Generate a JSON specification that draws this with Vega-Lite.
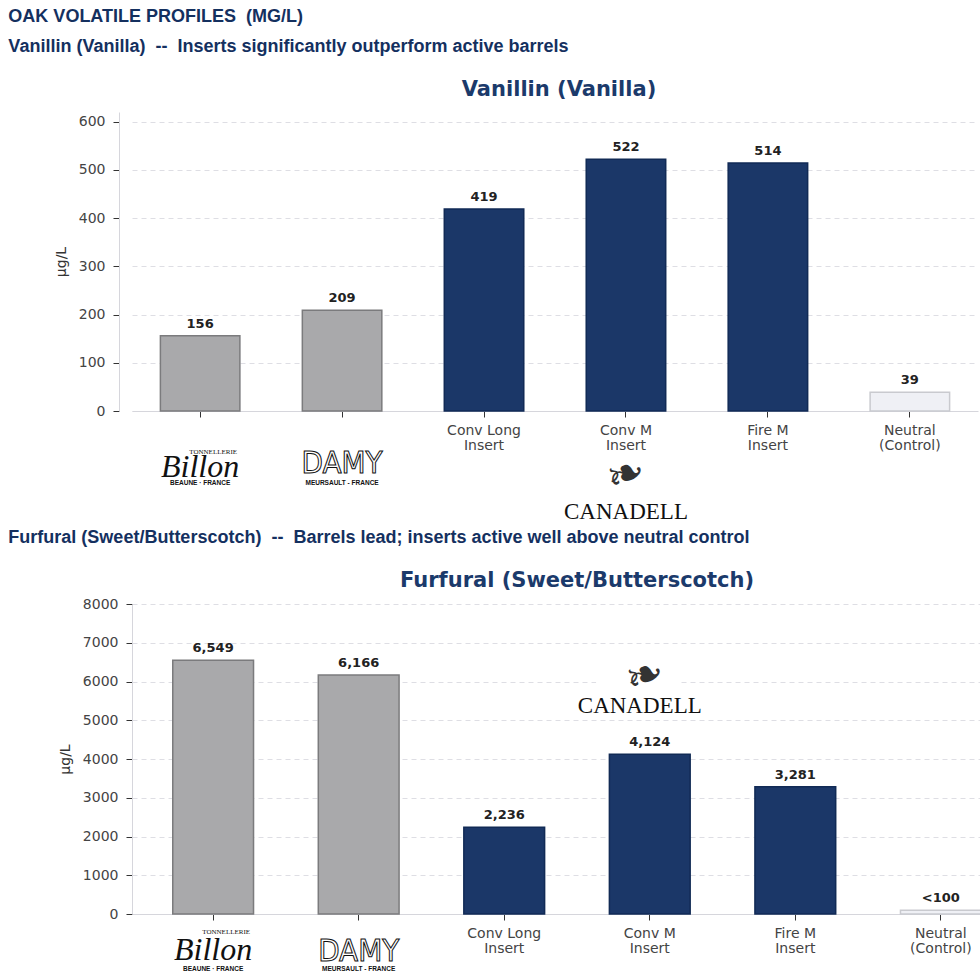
{
  "$schema": "https://vega.github.io/schema/vega-lite/v6.json",
  "background": "white",
  "padding": {"left": 8, "top": 8, "right": 0, "bottom": 0},
  "title": {
    "text": "OAK VOLATILE PROFILES \u00a0(MG/L)",
    "subtitle": "Vanillin (Vanilla) \u00a0-- \u00a0Inserts significantly outperform active barrels",
    "anchor": "start",
    "font": "Liberation Sans",
    "fontSize": 18,
    "fontWeight": "bold",
    "color": "#14305f",
    "subtitleFont": "Liberation Sans",
    "subtitleFontSize": 18,
    "subtitleFontWeight": "bold",
    "subtitleColor": "#14305f",
    "subtitlePadding": 12,
    "offset": 23
  },
  "spacing": 4,
  "datasets": {
    "vanillin": [
      {"group": "Billon", "kind": "barrel", "value": 156, "label": "156"},
      {"group": "DAMY", "kind": "barrel", "value": 209, "label": "209"},
      {"group": "Conv Long Insert", "kind": "insert", "value": 419, "label": "419"},
      {"group": "Conv M Insert", "kind": "insert", "value": 522, "label": "522"},
      {"group": "Fire M Insert", "kind": "insert", "value": 514, "label": "514"},
      {"group": "Neutral (Control)", "kind": "control", "value": 39, "label": "39"}
    ],
    "furfural": [
      {"group": "Billon", "kind": "barrel", "value": 6549, "label": "6,549"},
      {"group": "DAMY", "kind": "barrel", "value": 6166, "label": "6,166"},
      {"group": "Conv Long Insert", "kind": "insert", "value": 2236, "label": "2,236"},
      {"group": "Conv M Insert", "kind": "insert", "value": 4124, "label": "4,124"},
      {"group": "Fire M Insert", "kind": "insert", "value": 3281, "label": "3,281"},
      {"group": "Neutral (Control)", "kind": "control", "value": 100, "label": "<100"}
    ],
    "logos": [
      {"group": "Billon", "part": "tag", "text": "TONNELLERIE"},
      {"group": "Billon", "part": "brand", "text": "Billon"},
      {"group": "Billon", "part": "sub", "text": "BEAUNE · FRANCE"},
      {"group": "DAMY", "part": "brand", "text": "DAMY"},
      {"group": "DAMY", "part": "sub", "text": "MEURSAULT - FRANCE"},
      {"group": "Conv M Insert", "part": "leaf", "text": "❧"},
      {"group": "Conv M Insert", "part": "brand", "text": "CANADELL"}
    ]
  },
  "vconcat": [
    {
      "width": 846,
      "height": 299,
      "data": {"name": "vanillin"},
      "title": {"text": "Vanillin (Vanilla)", "frame": "group", "offset": 12, "dx": 4},
      "encoding": {
        "x": {
          "field": "group",
          "type": "nominal",
          "scale": {
            "domain": ["Billon", "DAMY", "Conv Long Insert", "Conv M Insert", "Fire M Insert", "Neutral (Control)"],
            "paddingInner": 0.44,
            "paddingOuter": 0.2
          },
          "axis": {
            "title": null,
            "labelAngle": 0,
            "labelExpr": "indexof(['Billon', 'DAMY'], datum.value) >= 0 ? '' : split(replace(replace(datum.value, ' Insert', '|Insert'), ' (', '|('), '|')",
            "labelLineHeight": 15,
            "labelPadding": 6
          }
        }
      },
      "layer": [
        {
          "mark": {"type": "bar", "strokeWidth": 1.5},
          "encoding": {
            "y": {
              "field": "value",
              "type": "quantitative",
              "title": "µg/L",
              "scale": {"domain": [0, 620], "nice": false},
              "axis": {"values": [0, 100, 200, 300, 400, 500, 600], "format": "d", "offset": 13, "labelOverlap": false}
            },
            "color": {
              "field": "kind",
              "type": "nominal",
              "legend": null,
              "scale": {"domain": ["barrel", "insert", "control"], "range": ["#a9a9ab", "#1b3768", "#eff0f5"]}
            },
            "stroke": {
              "field": "kind",
              "type": "nominal",
              "legend": null,
              "scale": {"domain": ["barrel", "insert", "control"], "range": ["#7b7b7d", "#112a55", "#c9cacf"]}
            }
          }
        },
        {
          "mark": {"type": "text", "baseline": "bottom", "dy": -5, "font": "DejaVu Sans", "fontSize": 13, "fontWeight": "bold", "color": "#222222"},
          "encoding": {
            "y": {"field": "value", "type": "quantitative", "title": "µg/L"},
            "text": {"field": "label"}
          }
        },
        {
          "data": {"name": "logos"},
          "transform": [{"filter": "datum.part == 'tag'"}],
          "mark": {"type": "text", "font": "Liberation Serif", "fontSize": 7, "dx": 13, "color": "#111111"},
          "encoding": {"y": {"datum": -85, "title": "µg/L"}, "text": {"field": "text"}}
        },
        {
          "data": {"name": "logos"},
          "transform": [{"filter": "datum.group == 'Billon' && datum.part == 'brand'"}],
          "mark": {"type": "text", "font": "Liberation Serif", "fontStyle": "italic", "fontSize": 32, "baseline": "alphabetic", "color": "#111111"},
          "encoding": {"y": {"datum": -137, "title": "µg/L"}, "text": {"field": "text"}}
        },
        {
          "data": {"name": "logos"},
          "transform": [{"filter": "datum.part == 'sub'"}],
          "mark": {"type": "text", "font": "Liberation Sans", "fontSize": 6.5, "fontWeight": "bold", "color": "#111111"},
          "encoding": {"y": {"datum": -150, "title": "µg/L"}, "text": {"field": "text"}}
        },
        {
          "data": {"name": "logos"},
          "transform": [{"filter": "datum.group == 'DAMY' && datum.part == 'brand'"}],
          "mark": {"type": "text", "font": "Liberation Sans Narrow, DejaVu Sans Condensed, Liberation Sans", "fontSize": 31, "baseline": "alphabetic", "fill": "white", "stroke": "#111111", "strokeWidth": 1},
          "encoding": {"y": {"datum": -129, "title": "µg/L"}, "text": {"field": "text"}}
        },
        {
          "data": {"name": "logos"},
          "transform": [{"filter": "datum.part == 'leaf'"}],
          "mark": {"type": "text", "font": "DejaVu Sans", "fontSize": 46, "color": "#333333", "angle": -20},
          "encoding": {"y": {"datum": -133, "title": "µg/L"}, "text": {"field": "text"}}
        },
        {
          "data": {"name": "logos"},
          "transform": [{"filter": "datum.group == 'Conv M Insert' && datum.part == 'brand'"}],
          "mark": {"type": "text", "font": "Liberation Serif", "fontSize": 23, "baseline": "alphabetic", "color": "#111111"},
          "encoding": {"y": {"datum": -224, "title": "µg/L"}, "text": {"field": "text"}}
        }
      ]
    },
    {
      "title": {
        "text": "Furfural (Sweet/Butterscotch) \u00a0-- \u00a0Barrels lead; inserts active well above neutral control",
        "anchor": "start",
        "dx": -50,
        "font": "Liberation Sans",
        "fontSize": 18,
        "fontWeight": "bold",
        "color": "#14305f",
        "offset": 23
      },
      "vconcat": [
        {
          "width": 890,
          "height": 310,
          "data": {"name": "furfural"},
          "title": {"text": "Furfural (Sweet/Butterscotch)", "frame": "group", "offset": 6},
          "encoding": {
            "x": {
              "field": "group",
              "type": "nominal",
              "scale": {
                "domain": ["Billon", "DAMY", "Conv Long Insert", "Conv M Insert", "Fire M Insert", "Neutral (Control)"],
                "paddingInner": 0.445,
                "paddingOuter": 0.28
              },
              "axis": {
                "title": null,
                "labelAngle": 0,
                "labelExpr": "indexof(['Billon', 'DAMY'], datum.value) >= 0 ? '' : split(replace(replace(datum.value, ' Insert', '|Insert'), ' (', '|('), '|')",
                "labelLineHeight": 15,
                "labelPadding": 6
              }
            }
          },
          "layer": [
            {
              "mark": {"type": "bar", "strokeWidth": 1.5},
              "encoding": {
                "y": {
                  "field": "value",
                  "type": "quantitative",
                  "title": "µg/L",
                  "scale": {"domain": [0, 8000], "nice": false},
                  "axis": {"values": [0, 1000, 2000, 3000, 4000, 5000, 6000, 7000, 8000], "format": "d", "labelOverlap": false, "tickCount": 9}
                },
                "color": {
                  "field": "kind",
                  "type": "nominal",
                  "legend": null,
                  "scale": {"domain": ["barrel", "insert", "control"], "range": ["#a9a9ab", "#1b3768", "#eff0f5"]}
                },
                "stroke": {
                  "field": "kind",
                  "type": "nominal",
                  "legend": null,
                  "scale": {"domain": ["barrel", "insert", "control"], "range": ["#7b7b7d", "#112a55", "#c9cacf"]}
                }
              }
            },
            {
              "mark": {"type": "text", "baseline": "bottom", "dy": -5, "font": "DejaVu Sans", "fontSize": 13, "fontWeight": "bold", "color": "#222222"},
              "encoding": {
                "y": {"field": "value", "type": "quantitative", "title": "µg/L"},
                "text": {"field": "label"}
              }
            },
            {
              "data": {"name": "logos"},
              "transform": [{"filter": "datum.group == 'Conv M Insert' && datum.part == 'brand'"}],
              "mark": {"type": "bar", "fill": "white", "width": {"band": 1.03}, "xOffset": -12},
              "encoding": {"y": {"datum": 5080, "title": "µg/L"}, "y2": {"datum": 6710}}
            },
            {
              "data": {"name": "logos"},
              "transform": [{"filter": "datum.part == 'tag'"}],
              "mark": {"type": "text", "font": "Liberation Serif", "fontSize": 7, "dx": 13, "color": "#111111"},
              "encoding": {"y": {"datum": -465, "title": "µg/L"}, "text": {"field": "text"}}
            },
            {
              "data": {"name": "logos"},
              "transform": [{"filter": "datum.group == 'Billon' && datum.part == 'brand'"}],
              "mark": {"type": "text", "font": "Liberation Serif", "fontStyle": "italic", "fontSize": 32, "baseline": "alphabetic", "color": "#111111"},
              "encoding": {"y": {"datum": -1190, "title": "µg/L"}, "text": {"field": "text"}}
            },
            {
              "data": {"name": "logos"},
              "transform": [{"filter": "datum.part == 'sub'"}],
              "mark": {"type": "text", "font": "Liberation Sans", "fontSize": 6.5, "fontWeight": "bold", "color": "#111111"},
              "encoding": {"y": {"datum": -1420, "title": "µg/L"}, "text": {"field": "text"}}
            },
            {
              "data": {"name": "logos"},
              "transform": [{"filter": "datum.group == 'DAMY' && datum.part == 'brand'"}],
              "mark": {"type": "text", "font": "Liberation Sans Narrow, DejaVu Sans Condensed, Liberation Sans", "fontSize": 31, "baseline": "alphabetic", "fill": "white", "stroke": "#111111", "strokeWidth": 1},
              "encoding": {"y": {"datum": -1213, "title": "µg/L"}, "text": {"field": "text"}}
            },
            {
              "data": {"name": "logos"},
              "transform": [{"filter": "datum.part == 'leaf'"}],
              "mark": {"type": "text", "font": "DejaVu Sans", "fontSize": 46, "color": "#333333", "angle": -20, "dx": -5},
              "encoding": {"y": {"datum": 6170, "title": "µg/L"}, "text": {"field": "text"}}
            },
            {
              "data": {"name": "logos"},
              "transform": [{"filter": "datum.group == 'Conv M Insert' && datum.part == 'brand'"}],
              "mark": {"type": "text", "font": "Liberation Serif", "fontSize": 23, "baseline": "alphabetic", "color": "#111111", "dx": -10},
              "encoding": {"y": {"datum": 5190, "title": "µg/L"}, "text": {"field": "text"}}
            }
          ]
        }
      ]
    }
  ],
  "config": {
    "view": {"stroke": null},
    "title": {"font": "DejaVu Sans", "fontSize": 21, "fontWeight": "bold", "color": "#1b3a6b"},
    "axis": {
      "labelFont": "DejaVu Sans",
      "labelFontSize": 14,
      "labelColor": "#444444",
      "titleFont": "DejaVu Sans",
      "titleFontSize": 14,
      "titleFontWeight": "normal",
      "titleColor": "#333333",
      "domainColor": "#d6d6dc",
      "tickColor": "#333333",
      "tickSize": 6
    },
    "axisX": {"grid": false},
    "axisY": {"grid": true, "gridDash": [5, 4], "gridColor": "#dedee4", "labelPadding": 8, "titlePadding": 10}
  }
}
